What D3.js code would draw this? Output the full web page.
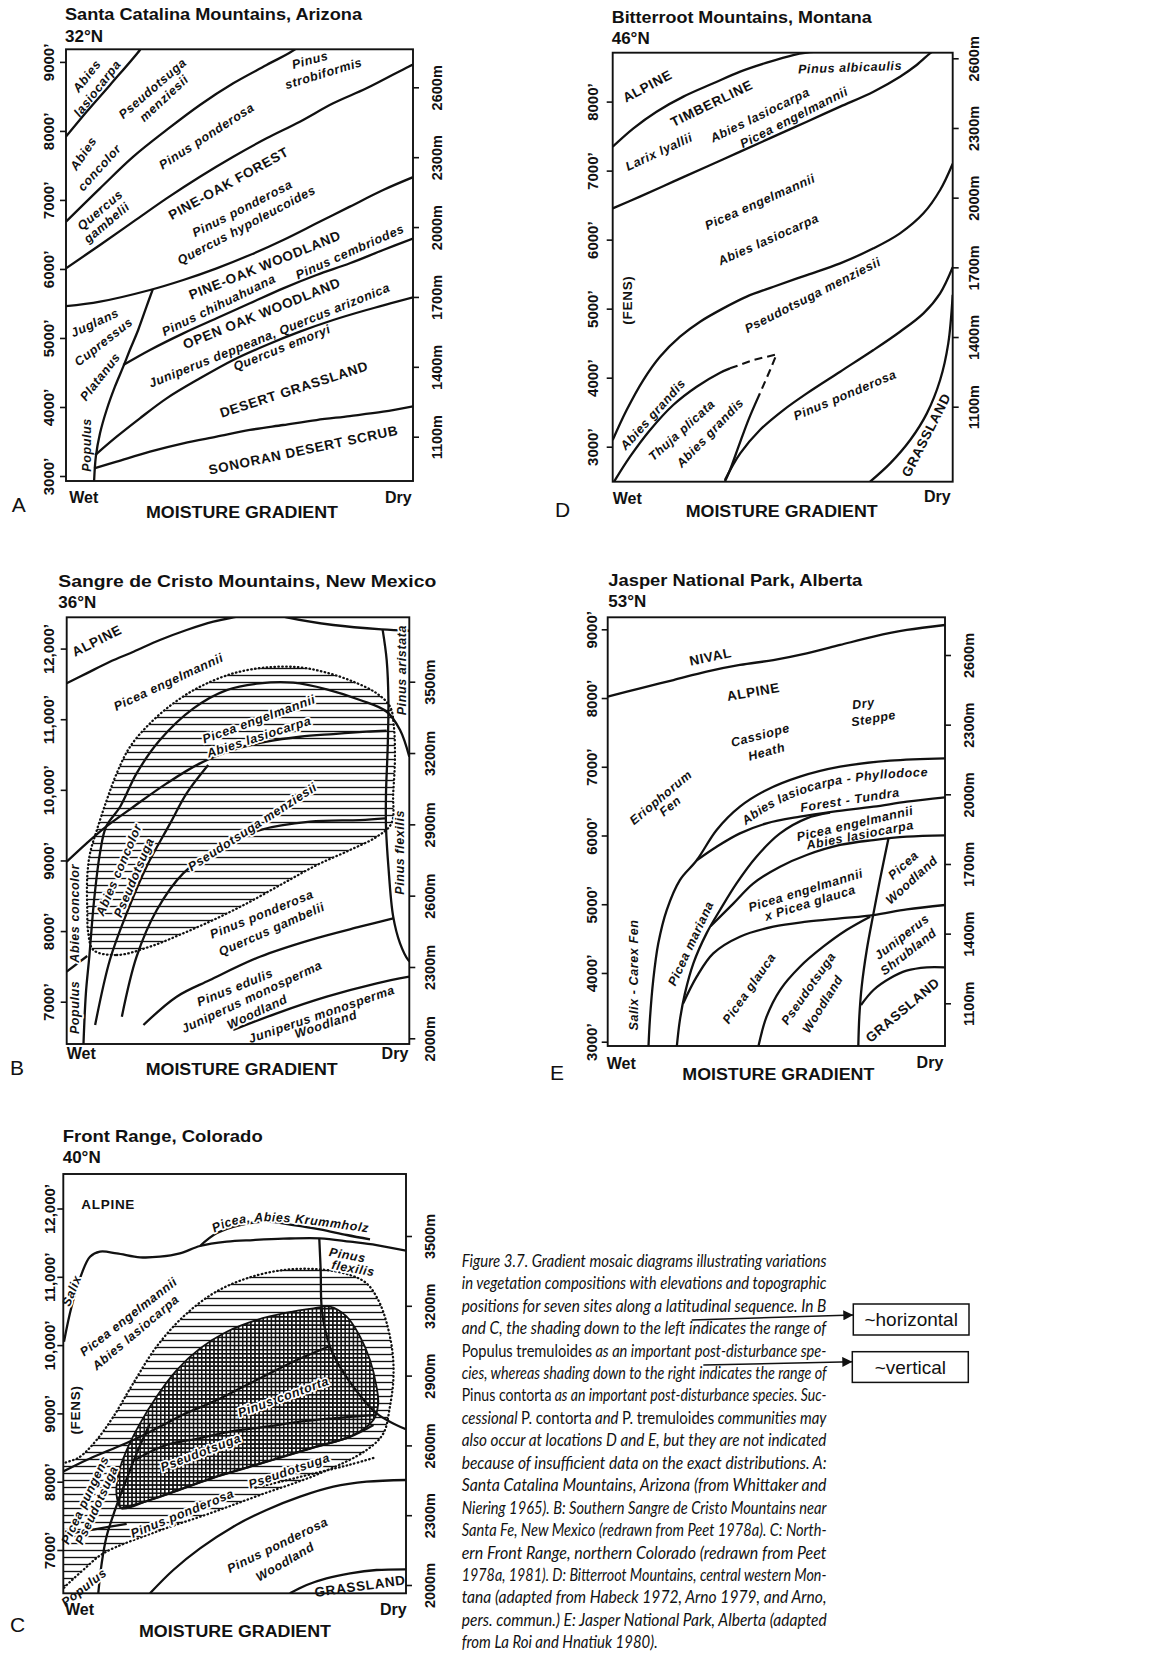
<!DOCTYPE html>
<html>
<head>
<meta charset="utf-8">
<script src="https://cdn.jsdelivr.net/npm/d3@7"></script>
<style>
body { margin: 0; background: #fff; }
svg text { font-family: "Liberation Sans", Arial, Helvetica, sans-serif; fill: #111; }
</style>
</head>
<body>
<div id="fig"></div>
<script>
// ---------- data: [moisture 0 (wet) .. 100 (dry), elevation in feet]

var titles = ["Santa Catalina Mountains, Arizona", "Bitterroot Mountains, Montana",
  "Sangre de Cristo Mountains, New Mexico", "Jasper National Park, Alberta", "Front Range, Colorado"];
var latitudes = ["32°N", "46°N", "36°N", "53°N", "40°N"];
var letters = ["A", "D", "B", "E", "C"];

// A: Santa Catalina Mountains
var aFeet = [3000, 4000, 5000, 6000, 7000, 8000, 9000];
var aMeters = [1100, 1400, 1700, 2000, 2300, 2600];
var aLines = [
  [[0,7917],[6,8280],[12.7,8666],[21.3,9173],[22,9230]],
  [[0,6685],[9.8,7168],[19.4,7627],[29,8014],[38.6,8376],[48.2,8690],[57.8,8955],[66,9182],[67,9240]],
  [[0,6009],[9.8,6347],[19.4,6685],[29,7023],[38.6,7337],[48.2,7627],[57.8,7893],[67.4,8134],[77,8400],[86.6,8617],[98.7,8931],[100,8960]],
  [[0,5460],[9.8,5526],[24.2,5695],[33.8,5840],[43.4,6009],[53,6202],[62.6,6420],[72.2,6661],[81.8,6903],[91.4,7144],[100,7330]],
  [[25,5705],[23.2,5454],[20.8,5116],[18.4,4826],[16.5,4584],[14.1,4294],[11.7,3956],[9.8,3618],[8.6,3280],[8.1,2928]],
  [[16.5,4608],[24.2,4826],[33.8,5067],[43.4,5285],[53,5502],[62.6,5719],[72.2,5912],[81.8,6082],[91.4,6275],[100,6440]],
  [[8.4,3304],[14.6,3570],[21.3,3836],[29,4125],[38.6,4415],[48.2,4681],[57.8,4898],[67.4,5091],[77,5260],[86.6,5405],[100,5590]],
  [[8.1,3111],[14.6,3208],[24.2,3353],[33.8,3473],[43.4,3570],[53,3667],[62.6,3739],[72.2,3811],[81.8,3869],[91.4,3932],[100,4010]]
];
var aLabels = [
  ["Abies",6,8796,-52],["lasiocarpa",9,8617,-52],
  ["Pseudotsuga",24.9,8617,-41],["menziesii",28.2,8472,-43],
  ["Abies",5,7675,-56],["concolor",9.6,7468,-48],
  ["Pinus ponderosa",40.5,7927,-33],
  ["Pinus",70.3,9028,-15],["strobiformis",74.2,8835,-17],
  ["Quercus",9.8,6854,-40],["gambelii",11.7,6671,-40],
  ["PINE-OAK FOREST",46.8,7241,-29],
  ["Pinus ponderosa",50.8,6878,-27],["Quercus hypoleucoides",52,6637,-28],
  ["PINE-OAK WOODLAND",57.3,6057,-22],
  ["Pinus cembriodes",81.8,6251,-24],
  ["Pinus chihuahuana",44,5478,-26],
  ["OPEN OAK WOODLAND",56.4,5357,-22],
  ["Juniperus deppeana, Quercus arizonica",58.6,5040,-22],
  ["Quercus emoryi",62.2,4860,-22],
  ["Juglans",8.3,5222,-25],["Cupressus",10.8,4946,-38],["Platanus",9.8,4439,-52],
  ["Populus",5.8,3449,-90],
  ["DESERT GRASSLAND",65.7,4256,-18],
  ["SONORAN DESERT SCRUB",68.4,3377,-12]
];

// D: Bitterroot Mountains
var dFeet = [3000, 4000, 5000, 6000, 7000, 8000];
var dMeters = [1100, 1400, 1700, 2000, 2300, 2600];
var dLines = [
  [[0,7347],[6.1,7613],[12.9,7854],[20.8,8072],[29.6,8265],[37.5,8434],[45.3,8564],[53.1,8675],[57.1,8709],[62,8730]],
  [[0,6453],[8,6623],[17.8,6840],[27.6,7057],[37.5,7275],[47.3,7492],[57.1,7709],[66.9,7927],[76.7,8144],[84.5,8361],[89.4,8530],[93.3,8699],[95,8760]],
  [[0,3097],[4.1,3531],[9,3966],[13.9,4304],[19.8,4594],[25.7,4811],[32.5,5004],[39.4,5174],[47.3,5318],[57.1,5487],[66.9,5657],[76.7,5874],[84.5,6091],[91.4,6381],[96.3,6719],[100,7100]],
  [[0.4,2493],[5.1,2855],[11,3242],[17.8,3604],[24.7,3869],[31.6,4072],[34.5,4135]],
  [[43.3,3773],[39.9,3386],[37,3000],[34.5,2662],[33,2493]],
  [[33,2517],[37.5,2903],[43.3,3242],[50.2,3531],[57.1,3773],[66.9,4087],[76.7,4401],[84.5,4666],[91.4,4932],[96.3,5222],[100,5600]],
  [[75.7,2493],[81.6,2758],[87.5,3097],[92.4,3483],[96.3,3966],[98.7,4497],[100,5200]]
];
var dDashed = [[34.5,4135],[41.4,4256],[48.2,4338],[46.3,4111],[43.3,3773]];
var dLabels = [
  ["ALPINE",10.2,8226,-28],["TIMBERLINE",29.1,7975,-26],["Pinus albicaulis",69.8,8497,-2],
  ["Larix lyallii",13.6,7275,-25],["Abies lasiocarpa",43.3,7806,-26],["Picea engelmannii",53.3,7772,-27],
  ["Picea engelmannii",43.3,6550,-24],["Abies lasiocarpa",45.8,6004,-24],
  ["(FENS)",4.3,5125,-90],["Pseudotsuga menziesii",58.8,5198,-27],
  ["Abies grandis",11.8,3469,-48],["Thuja plicata",20.3,3242,-42],["Abies grandis",28.6,3203,-46],
  ["Pinus ponderosa",68.3,3749,-23],["GRASSLAND",92.2,3169,-63]
];

// B: Sangre de Cristo Mountains
var bFeet = [7000, 8000, 9000, 10000, 11000, 12000];
var bMeters = [2000, 2300, 2600, 2900, 3200, 3500];
var bLines = [
  [[0,11508],[5.8,11649],[12.6,11814],[19.5,11956],[27.2,12121],[35,12263],[42.8,12381],[48.6,12442],[52,12470]],
  [[62,12470],[64.2,12442],[77.8,12334],[91.9,12272],[100,12253]],
  [[92.2,12272],[93.4,11838],[93.9,11272],[93.7,10611],[93.2,9950],[93.2,9478],[93.9,8912],[95.3,8204],[97.3,7826],[99.7,7590],[100.5,7560]],
  [[4.9,6401],[5.6,7118],[6.6,7637],[8,8440],[9.7,9100],[11.5,9478],[15.6,9761],[20.4,10233],[27.2,10705],[37,11154],[46.7,11413],[56.4,11508],[66.1,11517],[75.9,11423],[85.6,11272],[93.4,11106],[97.3,10847],[100,10469]],
  [[0,8982],[5.8,9242],[11.5,9478],[19.5,9761],[29.2,10092],[38.9,10375],[48.6,10564],[58.4,10682],[68.1,10752],[77.8,10790],[87.5,10823],[93.4,10837]],
  [[8.3,6670],[12.6,7590],[17.5,8251],[23.3,8912],[30.2,9525],[35,9950],[41.3,10351]],
  [[16.1,6788],[20.4,7637],[26.3,8298],[34,8817],[44.7,9195],[56.4,9431],[71,9549],[85.6,9572],[92.9,9596]],
  [[22.4,6670],[32.1,7071],[41.8,7307],[56.4,7637],[71,7873],[85.6,8062],[95.3,8180]],
  [[48.6,6599],[61.3,6835],[75.9,7071],[90.5,7260],[100,7354]],
  [[0,7425],[6,7647]]
];
var bHatch = [[7.8,7732],[14.6,7661],[24.3,7779],[34,7968],[43.8,8180],[53.5,8416],[63.2,8676],[73,8935],[82.7,9148],[90.5,9336],[94.8,9525],[95.3,9950],[95.8,10422],[95.5,10894],[94.4,11177],[90.5,11366],[83.7,11531],[75.9,11659],[68.1,11734],[58.4,11734],[48.6,11649],[38.9,11460],[31.1,11224],[24.3,10941],[18.5,10611],[14.6,10233],[11.7,9856],[8.8,9431],[6.8,9100],[6,8770],[6,8298],[6.3,7968]];
var bLabels = [
  ["ALPINE",8.8,12112,-27],["Picea engelmannii",29.7,11531,-25],["Picea engelmannii",56.1,11003,-20],
  ["Abies lasiocarpa",56.1,10752,-18],["Pseudotsuga menziesii",54.2,9478,-33],
  ["Abies concolor",15.2,8870,-67],["Pseudotsuga",19.6,8760,-67],
  ["Abies concolor",2.4,8251,-90],["Populus",2.4,6920,-90],
  ["Pinus aristata",97.8,11695,-90],["Pinus flexilis",97.3,9115,-90],
  ["Pinus ponderosa",56.9,8241,-22],["Quercus gambelii",59.8,8029,-24],
  ["Pinus edulis",49.1,7203,-22],["Juniperus monosperma",54,7071,-25],["Woodland",55.6,6858,-25],
  ["Juniperus monosperma",74.4,6825,-19],["Woodland",75.6,6684,-18]
];

// E: Jasper National Park
var eFeet = [3000, 4000, 5000, 6000, 7000, 8000, 9000];
var eMeters = [1100, 1400, 1700, 2000, 2300, 2600];
var eLines = [
  [[0,8020],[9.6,8141],[19.5,8262],[29.3,8384],[39.2,8481],[49.1,8553],[59,8650],[68.9,8772],[78.8,8893],[88.7,8990],[100,9063]],
  [[12.1,2937],[12.5,3315],[13.5,3897],[15,4431],[17.5,4916],[21.4,5352],[26.4,5640],[32.3,6080],[39.2,6419],[47.1,6662],[57,6856],[68.9,7001],[83.7,7089],[100,7123]],
  [[26.4,5640],[32.3,5837],[39.2,6031],[47.1,6177],[57,6274],[66.9,6347],[78.8,6419],[88.7,6492],[100,6555]],
  [[20.5,2937],[21.4,3315],[22.9,3703],[25.4,4140],[29.3,4576],[33.3,4916],[38.2,5304],[44.1,5692],[51.1,6031],[59,6250],[65.9,6332]],
  [[30.5,4680],[37.3,5013],[43.2,5304],[51.1,5546],[59,5716],[68.9,5862],[78.8,5934],[88.7,5983],[100,6002]],
  [[22.4,3560],[26.4,3946],[31.3,4285],[39.2,4528],[49.1,4673],[59,4746],[68.9,4795],[78.8,4843],[88.7,4925],[100,4989]],
  [[44.7,2937],[47.1,3364],[51.1,3752],[57,4091],[63.9,4382],[70.8,4625],[77.8,4819]],
  [[83.2,5950],[80.7,5352],[78.8,4867],[76.8,4334],[75.3,3800],[74.6,3364],[74.3,2937]],
  [[75.1,3534],[78.8,3752],[83.7,3922],[88.6,4033],[94.6,4082],[100,4082]]
];
var eLabels = [
  ["NIVAL",30.5,8602,-12],["ALPINE",43.2,8092,-10],["Dry",75.8,7923,-8],["Steppe",78.8,7705,-10],
  ["Cassiope",45.2,7462,-15],["Heath",47.1,7220,-15],
  ["Eriophorum",15.7,6555,-40],["Fen",18.5,6429,-40],
  ["Forest - Tundra",71.8,6520,-9],
  ["Picea engelmannii",73.3,6175,-13],["Abies lasiocarpa",74.8,6010,-11],
  ["Picea engelmannii",58.7,5207,-17],["x Picea glauca",60,5022,-17],
  ["Picea",87.6,5570,-42],["Woodland",90.1,5352,-42],
  ["Juniperus",87.2,4528,-38],["Shrubland",89.1,4310,-38],
  ["GRASSLAND",87.4,3461,-40],["Salix - Carex Fen",7.6,3970,-90],
  ["Picea mariana",24.6,4431,-65],["Picea glauca",41.9,3776,-55],
  ["Pseudotsuga",59.5,3776,-55],["Woodland",63.7,3548,-58]
];
// labels that follow a bent baseline
var eCurvedLabels = [
  ["Abies lasiocarpa - Phyllodoce", [[38.5,6140],[46,6400],[54,6600],[64,6760],[78.8,6880],[97,6930]]]
];

// C: Front Range
var cFeet = [7000, 8000, 9000, 10000, 11000, 12000];
var cMeters = [2000, 2300, 2600, 2900, 3200, 3500];
var cLines = [
  [[0.2,10050],[2.4,10562],[5.4,11050],[7.8,11294],[10.7,11368],[15.6,11343],[22.4,11285],[28.2,11294],[34,11343],[39.9,11451],[47.7,11514],[55.4,11538],[64.2,11558],[74.9,11563],[83.7,11514],[91.4,11465],[100,11382]],
  [[39.9,11451],[44.7,11636],[51.6,11758],[59.3,11807],[67.1,11758],[74.9,11695],[82.7,11612],[89.5,11548]],
  [[74.7,11558],[75.1,11099],[75.5,10489],[77.8,9977],[80.7,9684],[84.6,9391],[88.5,9147],[91.4,9001],[95.3,8879],[100,8767]],
  [[0,8150],[6.8,8318],[13.6,8464],[20.4,8610],[28.2,8806],[35.8,9001],[43.8,9172],[51.6,9367],[59.3,9562],[67.1,9757],[77.8,9987]],
  [[10.2,6366],[11.2,6805],[12.6,7195],[15.1,7586],[18,7976],[21.4,8415],[25.3,8854]],
  [[20.9,8318],[30,8537],[39.7,8635],[48.6,8732],[59.3,8806],[69.1,8879],[78.8,8928],[90.5,8976]],
  [[17,7610],[25.3,7732],[35,7903],[44.7,8074],[54.5,8220],[64.2,8366],[73.9,8513],[83.7,8659],[90.5,8830]],
  [[25.3,6366],[32.1,6707],[39.9,7024],[49.6,7342],[59.3,7586],[69.1,7781],[78.8,7927],[88.5,8000],[100,8025]],
  [[66.1,6366],[71,6488],[76.8,6585],[83.7,6658],[91.4,6707],[100,6717]],
  [[0,7220],[6.8,7283],[13.6,7342],[18.5,7381]]
];
var cHatch = [[-3,8150],[4.9,8366],[9.7,8610],[14.6,8952],[20.4,9440],[27.2,9977],[35,10416],[43.8,10758],[53.5,10977],[64.2,11099],[74.9,11109],[83.7,11026],[88.5,10904],[91.9,10660],[94.4,10318],[96.1,9879],[96.3,9489],[95.3,9098],[93.4,8708],[88.5,8464],[74.9,8122],[57.4,7805],[42.8,7537],[27.2,7268],[11.7,6951],[5.8,6707],[1,6488],[-3,6300]];
var cCross = [[15.6,7781],[16.1,8122],[18.5,8464],[22.4,8854],[27.2,9245],[33.1,9635],[39.9,9952],[47.7,10196],[56.4,10367],[65.2,10475],[73,10538],[77.8,10562],[82.7,10416],[86.6,10123],[89.5,9782],[91.4,9391],[91.9,9147],[90.5,8903],[83.7,8659],[73.9,8513],[64.2,8366],[54.5,8220],[44.7,8074],[35,7903],[25.3,7732],[17,7610]];
var cDots = [[55,7900],[64.2,8010],[73.9,8130],[83.7,8250],[91.4,8360]];
var cLabels = [
  ["ALPINE",13.1,12065,0],["Salix",2.4,10797,-68],
  ["Picea engelmannii",19,10416,-38],["Abies lasiocarpa",21.1,10187,-40],["(FENS)",3.4,9050,-90],
  ["Pinus",82.9,11319,10],["flexilis",84.6,11124,10],
  ["Pinus contorta",64.2,9245,-20],["Pseudotsuga",40.1,8430,-21],["Pseudotsuga",65.9,8161,-19],
  ["Pinus ponderosa",34.7,7537,-22],["Picea pungens",6.3,7732,-65],["Pseudotsuga",9.7,7659,-65],
  ["Populus",6,6453,-38],["Pinus ponderosa",62.5,7073,-26],["Woodland",64.7,6829,-30],
  ["GRASSLAND",86.6,6473,-8]
];
var cCurvedLabels = [
  ["Picea, Abies Krummholz", [[41,11640],[48,11800],[56,11870],[66,11860],[78,11790],[92,11690]]]
];

// caption; words in braces are set upright
var captionLines = [
  "Figure 3.7.  Gradient mosaic diagrams illustrating variations",
  "in vegetation compositions with elevations and topographic",
  "positions for seven sites along a latitudinal sequence. In B",
  "and C, the shading down to the left indicates the range of",
  "{Populus tremuloides} as an important post-disturbance spe-",
  "cies, whereas shading down to the right indicates the range of",
  "{Pinus contorta} as an important post-disturbance species. Suc-",
  "cessional {P. contorta} and {P. tremuloides} communities may",
  "also occur at locations D and E, but they are not indicated",
  "because of insufficient data on the exact distributions. A:",
  "Santa Catalina Mountains, Arizona (from Whittaker and",
  "Niering 1965). B: Southern Sangre de Cristo Mountains near",
  "Santa Fe, New Mexico (redrawn from Peet 1978a). C: North-",
  "ern Front Range, northern Colorado (redrawn from Peet",
  "1978a, 1981). D: Bitterroot Mountains, central western Mon-",
  "tana (adapted from Habeck 1972, Arno 1979, and Arno,",
  "pers. commun.) E: Jasper National Park, Alberta (adapted",
  "from La Roi and Hnatiuk 1980)."
];
var notes = ["~horizontal", "~vertical"];

// ---------- layout (pixels)
var panels = [
  {feet:aFeet, meters:aMeters, lines:aLines, labels:aLabels,
   box:[66,49.3,413,481], ftPx:[476,61.9], mPx:[436.7,87.3], leftLab:49, rightLab:436.7,
   title:[65,20,297], lat:[65,41.7], wet:[69.3,503.3], dry:[411.7,503.3], grad:[242,518], letter:[11.7,511.7]},
  {feet:dFeet, meters:dMeters, lines:dLines, labels:dLabels, dashed:dDashed,
   box:[612.7,52.7,952.7,481.7], ftPx:[446.7,101.6], mPx:[406.7,58.3], leftLab:592.7, rightLab:973.3,
   title:[611.7,22.7,260], lat:[611.7,44.3], wet:[612.7,504], dry:[950.7,502], grad:[781.7,517], letter:[555,516.7]},
  {feet:bFeet, meters:bMeters, lines:bLines, labels:bLabels, hatch:bHatch, halo:true,
   box:[66.7,617.3,409.3,1044], ftPx:[1001.7,648.6], mPx:[1038.3,681.7], leftLab:48.3, rightLab:430,
   title:[58.3,587.3,378], lat:[58.3,608.3], wet:[66.7,1059], dry:[408.3,1059], grad:[241.7,1075], letter:[10,1075]},
  {feet:eFeet, meters:eMeters, lines:eLines, labels:eLabels, curved:eCurvedLabels,
   box:[607.7,617.3,945,1046], ftPx:[1041.7,629.3], mPx:[1003.3,655], leftLab:591.7, rightLab:968.3,
   title:[608.3,586,254], lat:[608.3,606.7], wet:[606.7,1069.3], dry:[943.3,1068.3], grad:[778.3,1080], letter:[550,1080]},
  {feet:cFeet, meters:cMeters, lines:cLines, labels:cLabels, curved:cCurvedLabels,
   hatch:cHatch, cross:cCross, dots:cDots, halo:true,
   box:[63.3,1174,406,1593.3], ftPx:[1550,1208.5], mPx:[1585,1236], leftLab:49.3, rightLab:430,
   title:[62.7,1141.7,200], lat:[62.7,1163.3], wet:[65,1615], dry:[406.7,1615], grad:[235,1637], letter:[10,1631.7]}
];

var svg = d3.select("#fig").append("svg")
  .attr("width", 1176).attr("height", 1657)
  .style("background", "#fff");

var defs = svg.append("defs");
defs.append("pattern").attr("id", "hatchH").attr("patternUnits", "userSpaceOnUse")
  .attr("width", 9).attr("height", 7)
  .append("path").attr("d", "M0,3.5H9").attr("stroke", "#111").attr("stroke-width", 1.35);
var cp = defs.append("pattern").attr("id", "cross").attr("patternUnits", "userSpaceOnUse")
  .attr("width", 4.1).attr("height", 4.1);
cp.append("rect").attr("width", 4.1).attr("height", 4.1).attr("fill", "#fff");
cp.append("path").attr("d", "M0,0.8H4.1M0.8,0V4.1").attr("stroke", "#111").attr("stroke-width", 1.6);
defs.append("marker").attr("id", "arrow").attr("viewBox", "0 0 10 10")
  .attr("refX", 10).attr("refY", 5).attr("markerWidth", 11).attr("markerHeight", 10)
  .attr("markerUnits", "userSpaceOnUse").attr("orient", "auto")
  .append("path").attr("d", "M0,0L10,5L0,10z").attr("fill", "#111");

var fmtFeet = function(d) { return (d >= 10000 ? d3.format(",")(d) : String(d)) + "\u2019"; };
var isCaps = function(s) { return s === s.toUpperCase(); };

panels.forEach(function(p, i) {
  var x = d3.scaleLinear([0, 100], [p.box[0], p.box[2]]);
  var y = d3.scaleLinear([p.feet[0], p.feet[p.feet.length - 1]], p.ftPx);
  var ym = d3.scaleLinear([p.meters[0], p.meters[p.meters.length - 1]], p.mPx);
  var w = p.box[2] - p.box[0], h = p.box[3] - p.box[1];

  var g = svg.append("g");
  defs.append("clipPath").attr("id", "clip" + i)
    .append("rect").attr("x", p.box[0]).attr("y", p.box[1]).attr("width", w).attr("height", h);
  var body = g.append("g").attr("clip-path", "url(#clip" + i + ")");

  var line = d3.line().x(function(d) { return x(d[0]); }).y(function(d) { return y(d[1]); })
    .curve(d3.curveCatmullRom.alpha(0.5));
  var closed = d3.line().x(function(d) { return x(d[0]); }).y(function(d) { return y(d[1]); })
    .curve(d3.curveCatmullRomClosed.alpha(0.5));

  // shading
  if (p.hatch) {
    body.append("path").attr("d", closed(p.hatch)).attr("fill", "url(#hatchH)");
    body.append("path").attr("d", closed(p.hatch)).attr("fill", "none")
      .attr("stroke", "#111").attr("stroke-width", 2.3)
      .attr("stroke-dasharray", "0.5,3.4").attr("stroke-linecap", "round");
  }
  if (p.cross) {
    body.append("path").attr("d", closed(p.cross)).attr("fill", "url(#cross)")
      .attr("stroke", "#111").attr("stroke-width", 1.8);
  }
  if (p.dots) {
    body.append("path").attr("d", line(p.dots)).attr("fill", "none")
      .attr("stroke", "#111").attr("stroke-width", 2.3)
      .attr("stroke-dasharray", "0.5,3.4").attr("stroke-linecap", "round");
  }

  // boundaries
  body.selectAll("path.bound").data(p.lines).join("path").attr("class", "bound")
    .attr("d", line).attr("fill", "none").attr("stroke", "#111")
    .attr("stroke-width", 2.3).attr("stroke-linejoin", "round");
  if (p.dashed) {
    body.append("path")
      .attr("d", d3.line().x(function(d) { return x(d[0]); }).y(function(d) { return y(d[1]); })(p.dashed))
      .attr("fill", "none").attr("stroke", "#111").attr("stroke-width", 2.1)
      .attr("stroke-dasharray", "8,5");
  }

  // zone labels
  var lg = g.append("g");
  lg.selectAll("text.lab").data(p.labels).join("text").attr("class", "lab")
    .attr("transform", function(d) { return "translate(" + x(d[1]) + "," + y(d[2]) + ") rotate(" + d[3] + ")"; })
    .attr("text-anchor", "middle").attr("dy", "0.35em")
    .text(function(d) { return d[0]; });
  (p.curved || []).forEach(function(c, k) {
    var id = "lp" + i + "_" + k;
    defs.append("path").attr("id", id).attr("d", line(c[1]));
    lg.append("text").datum(c).attr("class", "lab").attr("dy", "0.35em")
      .append("textPath").attr("href", "#" + id).attr("startOffset", "50%")
      .attr("text-anchor", "middle").text(c[0]);
  });
  var lab = lg.selectAll("text.lab")
    .attr("font-size", function(d) { return isCaps(d[0]) ? 13.5 : 12.5; })
    .attr("font-weight", "bold")
    .attr("font-style", function(d) { return isCaps(d[0]) ? "normal" : "italic"; })
    .attr("letter-spacing", function(d) { return isCaps(d[0]) ? 0.7 : 0.6; });
  if (p.halo) {
    lab.attr("stroke", "#fff").attr("stroke-width", 3.5)
      .attr("stroke-linejoin", "round").attr("paint-order", "stroke");
  }

  // frame
  g.append("rect").attr("x", p.box[0]).attr("y", p.box[1]).attr("width", w).attr("height", h)
    .attr("fill", "none").attr("stroke", "#111").attr("stroke-width", 1.9);

  // axes
  var la = g.append("g").attr("transform", "translate(" + p.box[0] + ",0)")
    .call(d3.axisLeft(y).tickValues(p.feet).tickSize(6).tickFormat(fmtFeet));
  var ra = g.append("g").attr("transform", "translate(" + p.box[2] + ",0)")
    .call(d3.axisRight(ym).tickValues(p.meters).tickSize(6).tickFormat(function(d) { return d + "m"; }));
  [[la, p.leftLab - p.box[0], 15], [ra, p.rightLab - p.box[2], 14.5]].forEach(function(a) {
    a[0].attr("font-family", null).attr("font-size", null);
    a[0].select(".domain").remove();
    a[0].selectAll(".tick line").attr("stroke", "#111").attr("stroke-width", 1.6);
    a[0].selectAll(".tick text").attr("x", 0).attr("dy", "0.36em")
      .attr("text-anchor", "middle").attr("fill", "#111")
      .attr("font-size", a[2]).attr("font-weight", "bold")
      .attr("transform", "translate(" + a[1] + ",0) rotate(-90)");
  });

  // texts
  g.append("text").attr("x", p.title[0]).attr("y", p.title[1])
    .attr("font-size", 17).attr("font-weight", "bold")
    .attr("textLength", p.title[2]).attr("lengthAdjust", "spacingAndGlyphs")
    .text(titles[i]);
  g.append("text").attr("x", p.lat[0]).attr("y", p.lat[1])
    .attr("font-size", 17).attr("font-weight", "bold").text(latitudes[i]);
  g.append("text").attr("x", p.wet[0]).attr("y", p.wet[1])
    .attr("font-size", 16).attr("font-weight", "bold").text("Wet");
  g.append("text").attr("x", p.dry[0]).attr("y", p.dry[1]).attr("text-anchor", "end")
    .attr("font-size", 16).attr("font-weight", "bold").text("Dry");
  g.append("text").attr("x", p.grad[0] - 96).attr("y", p.grad[1])
    .attr("font-size", 16).attr("font-weight", "bold")
    .attr("textLength", 192).attr("lengthAdjust", "spacingAndGlyphs")
    .text("MOISTURE GRADIENT");
  g.append("text").attr("x", p.letter[0]).attr("y", p.letter[1])
    .attr("font-size", 21).text(letters[i]);
});

// caption: each line is squeezed horizontally to the justified column width
var cap = svg.append("g");
captionLines.forEach(function(s, i) {
  var t = cap.append("text")
    .attr("font-size", 16.5).attr("font-style", "italic")
    .style("font-family", "Lato, 'Open Sans', sans-serif");
  s.split(/([{}])/).reduce(function(roman, part) {
    if (part === "{") return true;
    if (part === "}") return false;
    if (part) t.append("tspan").attr("font-style", roman ? "normal" : "italic").text(part);
    return roman;
  }, false);
  var target = i < captionLines.length - 1 ? 365 : 196;
  var len = t.node().getComputedTextLength() || target;
  t.attr("transform", "translate(461.7," + (1266.7 + i * 22.45) + ") scale(" + (target / len) + ",1)");
});

// notes with arrows
var noteBox = [[853.3,1304,115.7,31,691.7,1320,1315], [852.3,1351.7,116,30.7,703.3,1365,1361.7]];
noteBox.forEach(function(b, i) {
  svg.append("line").attr("x1", b[4]).attr("y1", b[5]).attr("x2", b[0]).attr("y2", b[6])
    .attr("stroke", "#111").attr("stroke-width", 1.5).attr("marker-end", "url(#arrow)");
  svg.append("rect").attr("x", b[0]).attr("y", b[1]).attr("width", b[2]).attr("height", b[3])
    .attr("fill", "#fff").attr("stroke", "#111").attr("stroke-width", 1.5);
  svg.append("text").attr("x", b[0] + b[2] / 2).attr("y", b[1] + b[3] / 2).attr("dy", "0.35em")
    .attr("text-anchor", "middle").attr("font-size", 19).text(notes[i]);
});
</script>
</body>
</html>
